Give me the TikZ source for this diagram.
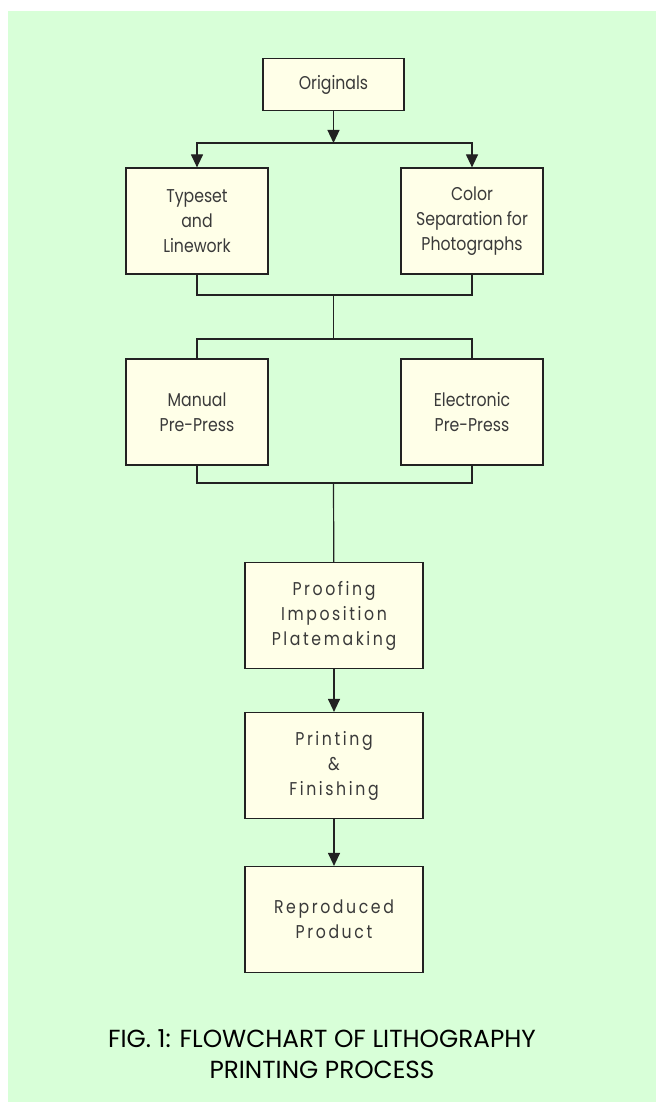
\documentclass[tikz,border=0pt]{standalone}
\usepackage{fontspec}
\setmainfont{Poppins}
\newfontfamily\boxfont[FakeStretch=0.85]{Poppins}
\newfontfamily\spacedfont[FakeStretch=0.85,LetterSpace=14]{Poppins}
\usetikzlibrary{arrows.meta,positioning}
\definecolor{bggreen}{HTML}{D8FFD8}
\definecolor{boxfill}{HTML}{FFFFE8}
\definecolor{linegray}{HTML}{222222}
\definecolor{textgray}{HTML}{3A3A3A}

\begin{document}
\begin{tikzpicture}[x=1pt,y=-1pt,
		every node/.style={rectangle,draw=linegray,line width=1.2pt,fill=boxfill,align=center,text=textgray,inner sep=0pt,font=\boxfont\fontsize{18.5}{25}\selectfont},
		pair/.style={minimum width=142pt,minimum height=106pt},
		chain/.style={minimum width=178pt,minimum height=106pt,font=\spacedfont\fontsize{18.5}{25}\selectfont},
		link/.style={draw=linegray,line width=1.2pt},
		caption/.style={draw=none,fill=none,text=black,font=\fontsize{24.7}{31}\selectfont}]
		\useasboundingbox (0,0) rectangle (656,1102);
		\fill[bggreen] (8,11) rectangle (656,1102);

		\node[minimum width=141pt,minimum height=52pt] (1) at (333.5,84.5) {Originals};
		\node[pair] (2) at (197,221) {Typeset\\and\\Linework};
		\node[pair] (3) at (472,221) {Color\\Separation for\\Photographs};
		\node[pair] (4) at (197,412) {Manual\\Pre-Press};
		\node[pair] (5) at (472,412) {Electronic\\Pre-Press};
		\node[chain] (6) at (334,615.5) {Proofing\\Imposition\\Platemaking};
		\node[chain] (7) at (334,765.5) {Printing\\\&\\Finishing};
		\node[chain] (8) at (334,919.5) {Reproduced\\Product};
		\node[caption] (9) at (322,1054) {FIG. 1: FLOWCHART OF LITHOGRAPHY\\PRINTING PROCESS};

		\coordinate (a) at (333.5,143);
		\coordinate (b) at (333.5,295);
		\coordinate (c) at (333.5,339);
		\coordinate (d) at (333.5,483);

		\draw[link,-{Triangle[width=12pt,length=13pt]}] (1)--(a);
		\draw[link,-{Triangle[width=12pt,length=13pt]}] (a)-|(2);
		\draw[link,-{Triangle[width=12pt,length=13pt]}] (a)-|(3);
		\draw[link] (2)|-(b)-|(3);
		\draw[link] (b)--(c);
		\draw[link] (4)|-(c)-|(5);
		\draw[link] (4)|-(d)-|(5);
		\draw[link] (d)--(6);
		\draw[link,-{Triangle[width=12pt,length=13pt]}] (6)--(7);
		\draw[link,-{Triangle[width=12pt,length=13pt]}] (7)--(8);
	\end{tikzpicture}
\end{document}
